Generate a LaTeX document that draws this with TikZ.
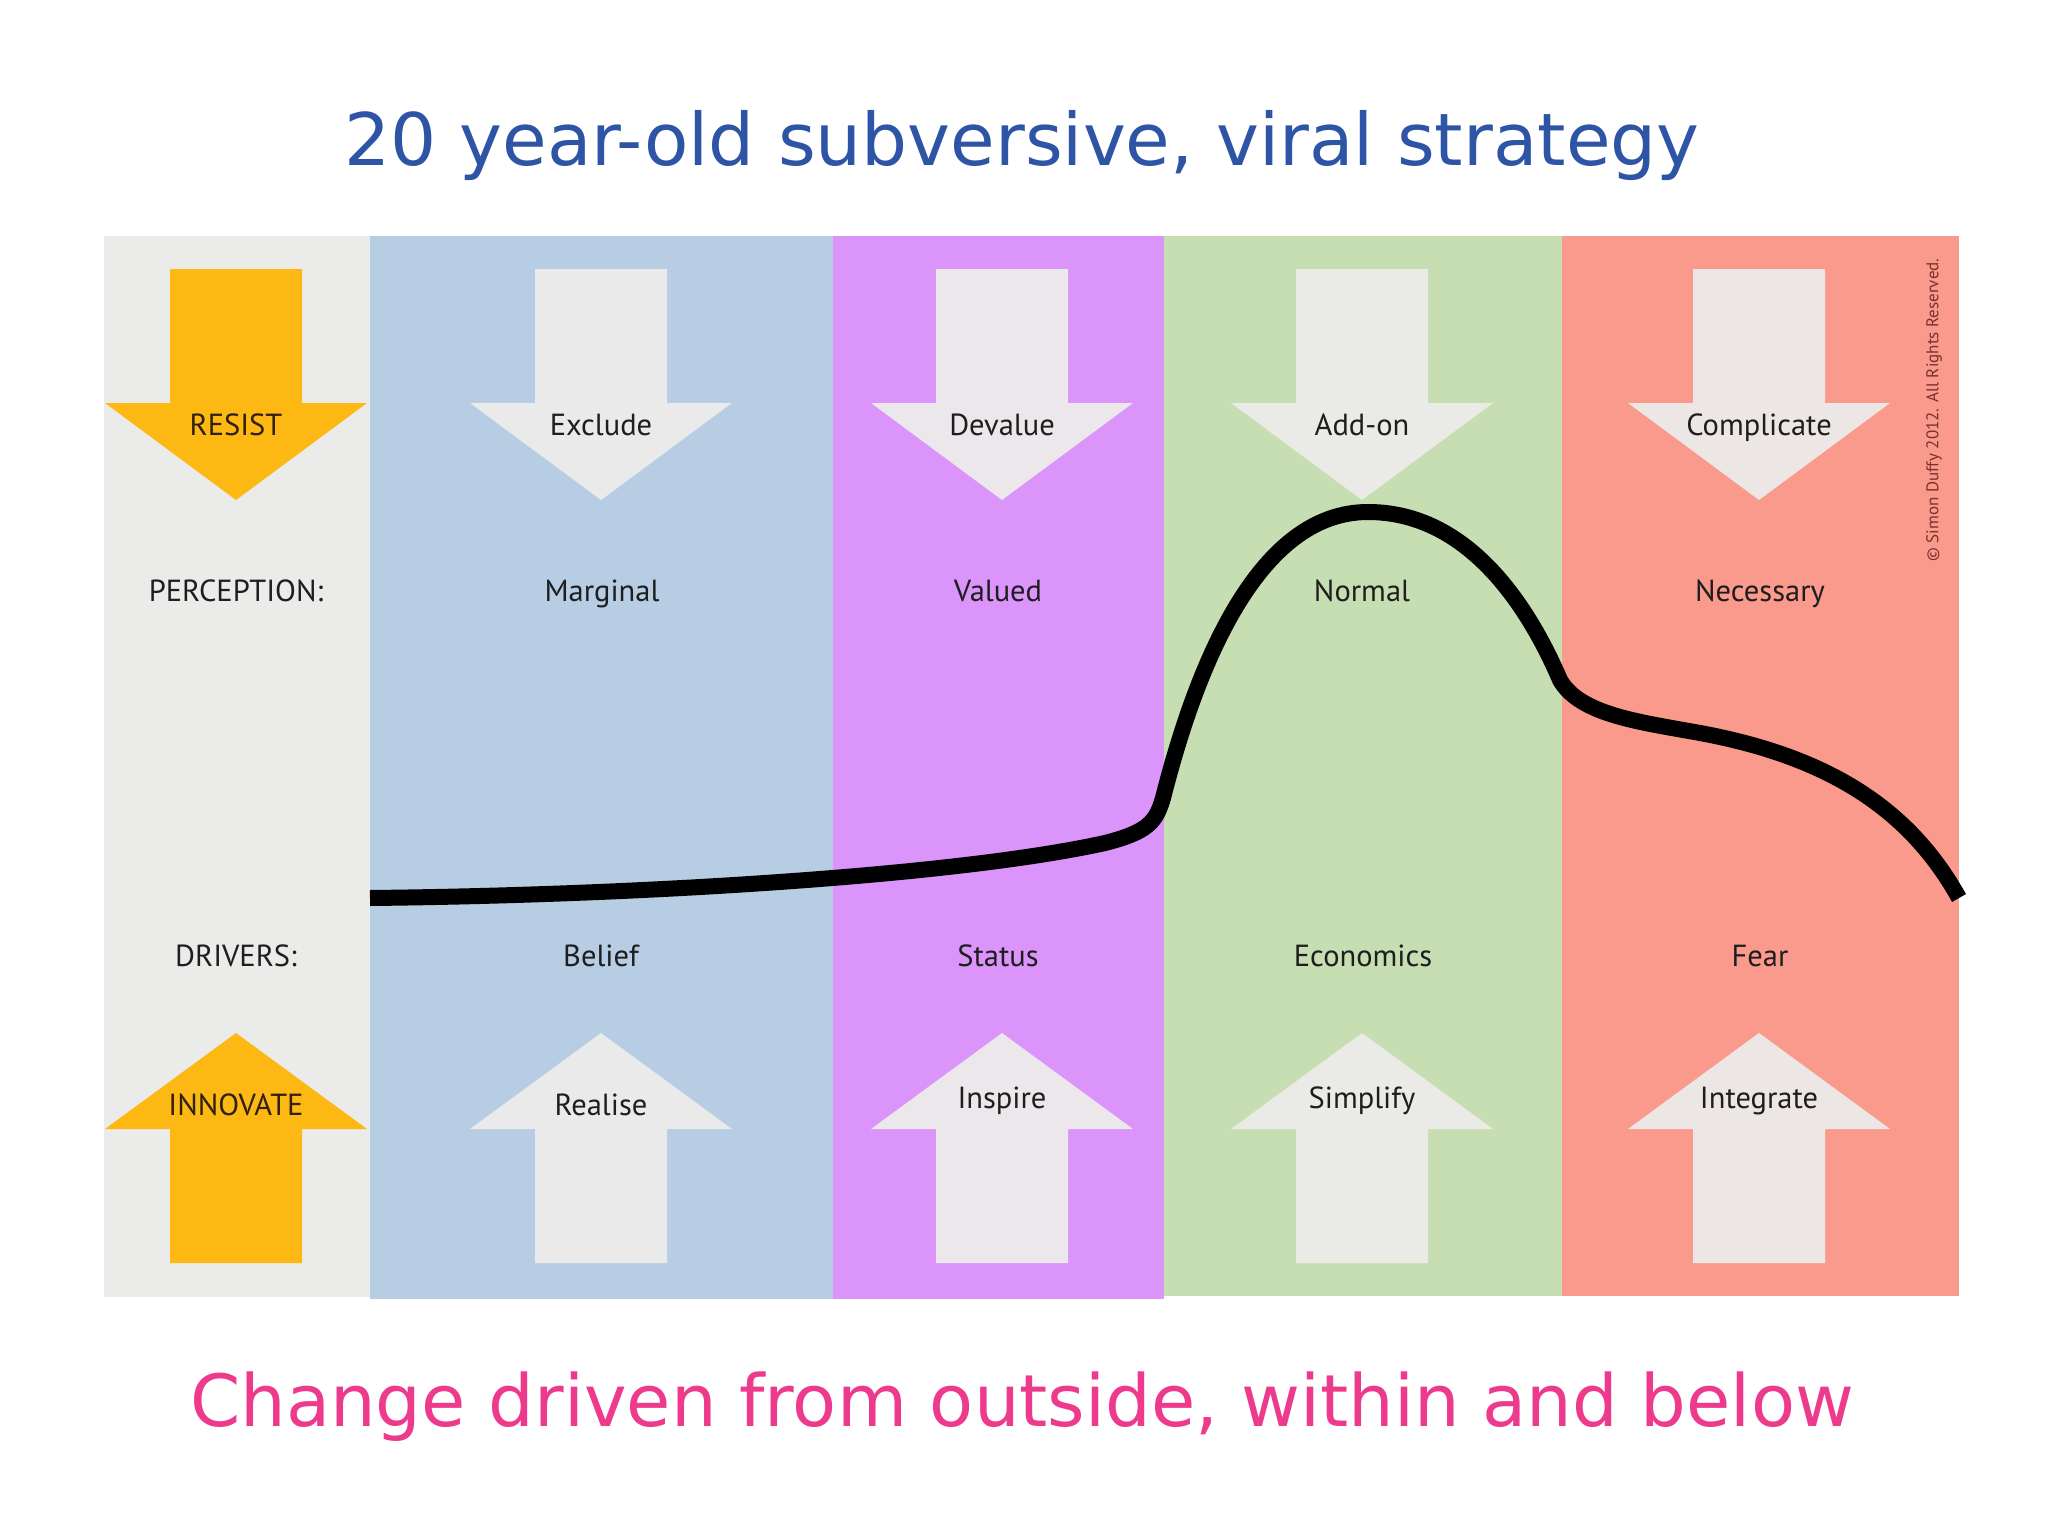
\documentclass[tikz,border=0pt]{standalone}
\usepackage{fontspec}
\setmainfont{PT Sans}
\newfontfamily\titlefont{DejaVu Sans}
\definecolor{colgray}{HTML}{EBEBEA}
\definecolor{colblue}{HTML}{B7CDE3}
\definecolor{colpurple}{HTML}{DA94FA}
\definecolor{colgreen}{HTML}{C6DEB1}
\definecolor{colred}{HTML}{FA9A8C}
\definecolor{arrowyellow}{HTML}{FDB813}
\definecolor{arrowlight}{HTML}{ECECEA}
\definecolor{titleblue}{HTML}{2E55A5}
\definecolor{subpink}{HTML}{EE3A8C}
\definecolor{labeltext}{HTML}{1E1E1E}
\definecolor{copytext}{HTML}{7A302C}
\tikzset{
  lbl/.style={font=\fontsize{30.5}{33}\selectfont, text=labeltext, inner sep=0pt, text height=22pt, text depth=7pt, anchor=center, yshift=-4pt},
  ylbl/.style={lbl, text={black!75!brown}},
  darrowlight/.style={fill=arrowlight, fill opacity=0.95},
  darrowyellow/.style={fill=arrowyellow},
}
\newcommand{\downarr}[2]{%
  \fill[#2] (#1-66,269) -- (#1+66,269) -- (#1+66,403) -- (#1+131,403) -- (#1,500) -- (#1-131,403) -- (#1-66,403) -- cycle;}
\newcommand{\uparr}[2]{%
  \fill[#2] (#1-66,1263) -- (#1+66,1263) -- (#1+66,1129) -- (#1+131,1129) -- (#1,1033) -- (#1-131,1129) -- (#1-66,1129) -- cycle;}
\begin{document}
\begin{tikzpicture}[x=1pt,y=-1pt]
\useasboundingbox (0,0) rectangle (2048,1536);
\fill[white] (0,0) rectangle (2048,1536);
% columns
\fill[colgray] (104,236) rectangle (370,1297);
\fill[colblue] (370,236) rectangle (833,1299);
\fill[colpurple] (833,236) rectangle (1164,1299);
\fill[colgreen] (1164,236) rectangle (1562,1296);
\fill[colred] (1562,236) rectangle (1959,1296);
% arrows
\downarr{236}{darrowyellow}
\uparr{236}{darrowyellow}
\foreach \cx in {601,1002,1362,1759}{
  \downarr{\cx}{darrowlight}
  \uparr{\cx}{darrowlight}
}
% curve
\draw[line width=16pt, black, line join=round]
  (370,898) .. controls (650,895) and (960,875) .. (1105,843)
  .. controls (1148,832) and (1156,822) .. (1163,798)
  .. controls (1198,660) and (1260,512) .. (1368,512)
  .. controls (1470,512) and (1530,610) .. (1560,680)
  .. controls (1580,715) and (1640,722) .. (1700,733)
  .. controls (1830,757) and (1910,810) .. (1959,898);
% labels
\node[ylbl] (resist) at (236,424) {RESIST};
\node[lbl] (exclude) at (601,424) {Exclude};
\node[lbl] (devalue) at (1002,424) {Devalue};
\node[lbl] (addon) at (1362,424) {Add-on};
\node[lbl] (complicate) at (1759,424) {Complicate};
\node[lbl] (perception) at (236,590) {PERCEPTION:};
\node[lbl] (marginal) at (602,590) {Marginal};
\node[lbl] (valued) at (998,590) {Valued};
\node[lbl] (normal) at (1362,590) {Normal};
\node[lbl] (necessary) at (1760,590) {Necessary};
\node[lbl] (drivers) at (236,955) {DRIVERS:};
\node[lbl] (belief) at (601,955) {Belief};
\node[lbl] (status) at (998,955) {Status};
\node[lbl] (economics) at (1363,955) {Economics};
\node[lbl] (fear) at (1760,955) {Fear};
\node[ylbl] (innovate) at (236,1104) {INNOVATE};
\node[lbl] (realise) at (601,1104) {Realise};
\node[lbl] (inspire) at (1002,1097) {Inspire};
\node[lbl] (simplify) at (1362,1097) {Simplify};
\node[lbl] (integrate) at (1759,1097) {Integrate};
% copyright
\node[rotate=90, font=\fontsize{17}{19}\selectfont, text=copytext, inner sep=0pt] (copy) at (1934,410) {© Simon Duffy 2012. All Rights Reserved.};
% title and subtitle
\node[font=\titlefont\fontsize{72.5}{78}\selectfont, text=titleblue, inner sep=0pt] (title) at (1022,145) {20 year-old subversive, viral strategy};
\node[font=\titlefont\fontsize{72}{78}\selectfont, text=subpink, inner sep=0pt] (subtitle) at (1022,1407) {Change driven from outside, within and below};
\end{tikzpicture}
\end{document}
